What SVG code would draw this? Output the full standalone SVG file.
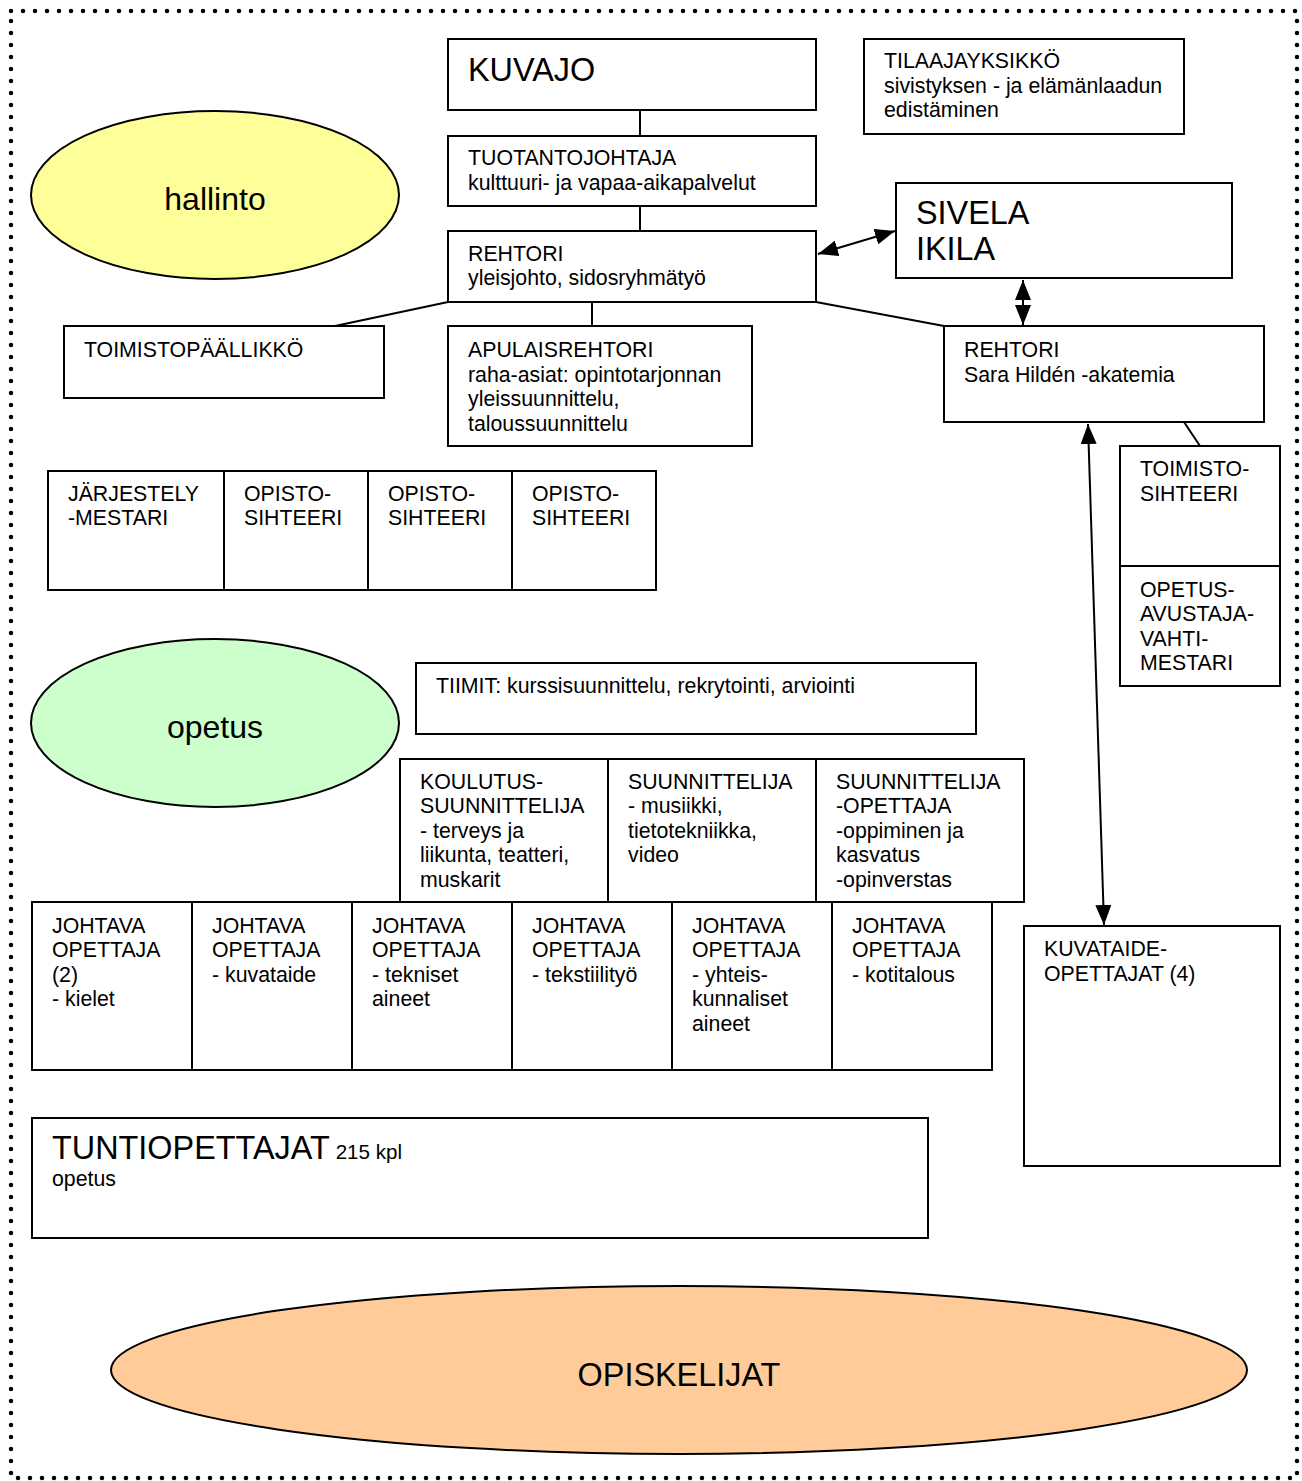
<svg xmlns="http://www.w3.org/2000/svg" width="1302" height="1481" viewBox="0 0 1302 1481">
<style>
.b{fill:#fff;stroke:#000;stroke-width:2}
.t{font-family:"Liberation Sans",Arial,sans-serif;font-size:21.3px;fill:#000}
.L{font-size:32.4px}
.c{stroke:#000;stroke-width:2;fill:none}
.e{stroke:#000;stroke-width:2}
</style>
<defs>
<marker id="ah2" viewBox="0 0 20 16" refX="20" refY="8" markerWidth="20" markerHeight="16" markerUnits="userSpaceOnUse" orient="auto-start-reverse">
<path d="M0,0 L20,8 L0,16 z" fill="#000"/>
</marker>
</defs>
<rect x="0" y="0" width="1302" height="1481" fill="#fff"/>
<rect x="11" y="11" width="1286" height="1467" fill="none" stroke="#000" stroke-width="4.5" stroke-linecap="round" stroke-dasharray="0 12"/>

<g id="connectors">
<line class="c" x1="640" y1="110" x2="640" y2="136"/>
<line class="c" x1="640" y1="206" x2="640" y2="231"/>
<line class="c" x1="448" y1="302" x2="335" y2="326"/>
<line class="c" x1="592" y1="302" x2="592" y2="326"/>
<line class="c" x1="816" y1="302" x2="944" y2="326"/>
<line class="c" x1="1184" y1="422" x2="1200" y2="446"/>
<line class="c" x1="818" y1="254" x2="895" y2="231" marker-start="url(#ah2)" marker-end="url(#ah2)"/>
<line class="c" x1="1023" y1="280" x2="1023" y2="325" marker-start="url(#ah2)" marker-end="url(#ah2)"/>
<line class="c" x1="1088" y1="424" x2="1104" y2="925" marker-start="url(#ah2)" marker-end="url(#ah2)"/>
</g>

<g id="hallinto"><ellipse cx="215" cy="195" rx="184" ry="84" fill="#ffff99" class="e"/><text class="t" x="215" y="210" text-anchor="middle" style="font-size:32px">hallinto</text></g>
<g id="kuvajo"><rect class="b" x="448" y="39" width="368" height="71"/><text class="t L" x="468" y="81">KUVAJO</text></g>
<g id="tilaaja"><rect class="b" x="864" y="39" width="320" height="95"/><text class="t" x="884" y="68">TILAAJAYKSIKKÖ</text><text class="t" x="884" y="93">sivistyksen - ja elämänlaadun</text><text class="t" x="884" y="117">edistäminen</text></g>
<g id="tuotanto"><rect class="b" x="448" y="136" width="368" height="70"/><text class="t" x="468" y="165">TUOTANTOJOHTAJA</text><text class="t" x="468" y="190">kulttuuri- ja vapaa-aikapalvelut</text></g>
<g id="sivela"><rect class="b" x="896" y="183" width="336" height="95"/><text class="t L" x="916" y="224">SIVELA</text><text class="t L" x="916" y="260">IKILA</text></g>
<g id="rehtori"><rect class="b" x="448" y="231" width="368" height="71"/><text class="t" x="468" y="261">REHTORI</text><text class="t" x="468" y="285">yleisjohto, sidosryhmätyö</text></g>
<g id="toimistopaallikko"><rect class="b" x="64" y="326" width="320" height="72"/><text class="t" x="84" y="357">TOIMISTOPÄÄLLIKKÖ</text></g>
<g id="apulaisrehtori"><rect class="b" x="448" y="326" width="304" height="120"/><text class="t" x="468" y="357">APULAISREHTORI</text><text class="t" x="468" y="382">raha-asiat: opintotarjonnan</text><text class="t" x="468" y="406">yleissuunnittelu,</text><text class="t" x="468" y="431">taloussuunnittelu</text></g>
<g id="rehtori2"><rect class="b" x="944" y="326" width="320" height="96"/><text class="t" x="964" y="357">REHTORI</text><text class="t" x="964" y="382">Sara Hildén -akatemia</text></g>

<g id="jarjestely"><rect class="b" x="48" y="471" width="176" height="119"/><text class="t" x="68" y="501">JÄRJESTELY</text><text class="t" x="68" y="525">-MESTARI</text></g>
<g id="opisto1"><rect class="b" x="224" y="471" width="144" height="119"/><text class="t" x="244" y="501">OPISTO-</text><text class="t" x="244" y="525">SIHTEERI</text></g>
<g id="opisto2"><rect class="b" x="368" y="471" width="144" height="119"/><text class="t" x="388" y="501">OPISTO-</text><text class="t" x="388" y="525">SIHTEERI</text></g>
<g id="opisto3"><rect class="b" x="512" y="471" width="144" height="119"/><text class="t" x="532" y="501">OPISTO-</text><text class="t" x="532" y="525">SIHTEERI</text></g>

<g id="toimistosihteeri"><rect class="b" x="1120" y="446" width="160" height="120"/><text class="t" x="1140" y="476">TOIMISTO-</text><text class="t" x="1140" y="501">SIHTEERI</text></g>
<g id="opetusavustaja"><rect class="b" x="1120" y="566" width="160" height="120"/><text class="t" x="1140" y="597">OPETUS-</text><text class="t" x="1140" y="621">AVUSTAJA-</text><text class="t" x="1140" y="646">VAHTI-</text><text class="t" x="1140" y="670">MESTARI</text></g>

<g id="opetus"><ellipse cx="215" cy="723" rx="184" ry="84" fill="#ccffcc" class="e"/><text class="t" x="215" y="738" text-anchor="middle" style="font-size:32px">opetus</text></g>
<g id="tiimit"><rect class="b" x="416" y="663" width="560" height="71"/><text class="t" x="436" y="693">TIIMIT: kurssisuunnittelu, rekrytointi, arviointi</text></g>

<g id="koulutussuunnittelija"><rect class="b" x="400" y="759" width="208" height="143"/><text class="t" x="420" y="789">KOULUTUS-</text><text class="t" x="420" y="813">SUUNNITTELIJA</text><text class="t" x="420" y="838">- terveys ja</text><text class="t" x="420" y="862">liikunta, teatteri,</text><text class="t" x="420" y="887">muskarit</text></g>
<g id="suunnittelija"><rect class="b" x="608" y="759" width="208" height="143"/><text class="t" x="628" y="789">SUUNNITTELIJA</text><text class="t" x="628" y="813">- musiikki,</text><text class="t" x="628" y="838">tietotekniikka,</text><text class="t" x="628" y="862">video</text></g>
<g id="suunnittelijaopettaja"><rect class="b" x="816" y="759" width="208" height="143"/><text class="t" x="836" y="789">SUUNNITTELIJA</text><text class="t" x="836" y="813">-OPETTAJA</text><text class="t" x="836" y="838">-oppiminen ja</text><text class="t" x="836" y="862">kasvatus</text><text class="t" x="836" y="887">-opinverstas</text></g>

<g id="johtava1"><rect class="b" x="32" y="902" width="160" height="168"/><text class="t" x="52" y="933">JOHTAVA</text><text class="t" x="52" y="957">OPETTAJA</text><text class="t" x="52" y="982">(2)</text><text class="t" x="52" y="1006">- kielet</text></g>
<g id="johtava2"><rect class="b" x="192" y="902" width="160" height="168"/><text class="t" x="212" y="933">JOHTAVA</text><text class="t" x="212" y="957">OPETTAJA</text><text class="t" x="212" y="982">- kuvataide</text></g>
<g id="johtava3"><rect class="b" x="352" y="902" width="160" height="168"/><text class="t" x="372" y="933">JOHTAVA</text><text class="t" x="372" y="957">OPETTAJA</text><text class="t" x="372" y="982">- tekniset</text><text class="t" x="372" y="1006">aineet</text></g>
<g id="johtava4"><rect class="b" x="512" y="902" width="160" height="168"/><text class="t" x="532" y="933">JOHTAVA</text><text class="t" x="532" y="957">OPETTAJA</text><text class="t" x="532" y="982">- tekstiilityö</text></g>
<g id="johtava5"><rect class="b" x="672" y="902" width="160" height="168"/><text class="t" x="692" y="933">JOHTAVA</text><text class="t" x="692" y="957">OPETTAJA</text><text class="t" x="692" y="982">- yhteis-</text><text class="t" x="692" y="1006">kunnaliset</text><text class="t" x="692" y="1031">aineet</text></g>
<g id="johtava6"><rect class="b" x="832" y="902" width="160" height="168"/><text class="t" x="852" y="933">JOHTAVA</text><text class="t" x="852" y="957">OPETTAJA</text><text class="t" x="852" y="982">- kotitalous</text></g>

<g id="kuvataideopettajat"><rect class="b" x="1024" y="926" width="256" height="240"/><text class="t" x="1044" y="956">KUVATAIDE-</text><text class="t" x="1044" y="981">OPETTAJAT (4)</text></g>

<g id="tuntiopettajat"><rect class="b" x="32" y="1118" width="896" height="120"/><text class="t" x="52" y="1159"><tspan style="font-size:32.4px">TUNTIOPETTAJAT</tspan> <tspan style="font-size:20.6px">215 kpl</tspan></text><text class="t" x="52" y="1186">opetus</text></g>

<g id="opiskelijat"><ellipse cx="679" cy="1370" rx="568" ry="84" fill="#ffcc99" class="e"/><text class="t" x="679" y="1386" text-anchor="middle" style="font-size:32.4px">OPISKELIJAT</text></g>
</svg>
